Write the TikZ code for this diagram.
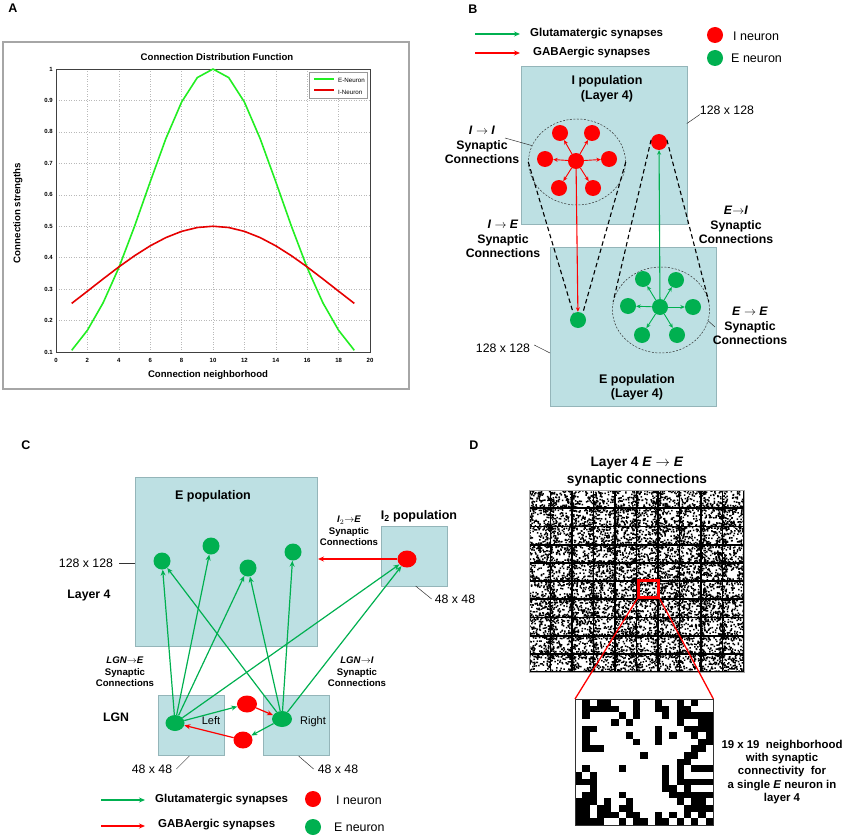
\documentclass[tikz,border=0pt]{standalone}
\usepackage{fontspec}
\setmainfont{Liberation Sans}
\usetikzlibrary{arrows.meta,positioning,shapes.geometric}

\definecolor{popfill}{HTML}{BDE0E3}
\definecolor{popedge}{HTML}{94B5B9}
\definecolor{egreen}{HTML}{00B050}
\definecolor{ired}{HTML}{FF0000}
\definecolor{curvegreen}{HTML}{22EE22}
\definecolor{curvered}{HTML}{E60000}

\tikzset{
  pop/.style={draw=popedge, fill=popfill, line width=1pt, anchor=north west, inner sep=0pt},
  ineuron/.style={circle, fill=ired, inner sep=0pt, minimum size=16pt},
  eneuron/.style={circle, fill=egreen, inner sep=0pt, minimum size=16pt},
  glu/.style={draw=egreen, line width=0.9pt, -{Stealth[length=4.5pt,width=4pt]}},
  gaba/.style={draw=ired, line width=0.9pt, -{Stealth[length=4.5pt,width=4pt]}},
  gluC/.style={draw=egreen, line width=1.2pt, -{Stealth[length=6pt,width=5pt]}},
  gabaC/.style={draw=ired, line width=1.2pt, -{Stealth[length=6pt,width=5pt]}},
  key/.style={line width=1.2pt, -{Stealth[length=6pt,width=5pt]}},
  funnel/.style={line width=1.1pt, dash pattern=on 4.5pt off 3pt},
  ring/.style={ellipse, draw=black!80, line width=0.5pt, dash pattern=on 2pt off 1.5pt, inner sep=0pt},
  leader/.style={line width=0.5pt, black!80},
  panel/.style={font=\fontsize{12.5}{14}\selectfont\bfseries},
  txt/.style={font=\fontsize{12.3}{14.7}\selectfont, align=center, inner sep=0pt},
  btxt/.style={font=\fontsize{12.3}{14.7}\selectfont\bfseries, align=center, inner sep=0pt},
  stxt/.style={font=\fontsize{9.6}{11.5}\selectfont\bfseries, align=center, inner sep=0pt},
  lgd/.style={font=\fontsize{11.5}{13}\selectfont\bfseries, anchor=west, inner sep=0pt},
  tick/.style={font=\fontsize{6}{7}\selectfont\bfseries, inner sep=0pt},
}

\begin{document}
\begin{tikzpicture}[x=1pt,y=-1pt]
\useasboundingbox (0,0) rectangle (843,840);

%% A
\node[panel] at (13,8) {A};
\draw[gray!70, line width=1.2pt] (3,42) rectangle (409,389);
\node[font=\fontsize{9.6}{11}\selectfont\bfseries] at (217,57) {Connection Distribution Function};
\node[font=\fontsize{9.7}{11}\selectfont\bfseries, rotate=90] at (18,213) {Connection strengths};
\node[font=\fontsize{9.6}{11}\selectfont\bfseries] at (208,375) {Connection neighborhood};
\begin{scope}[shift={(56,352)}, x=15.7pt, y=314.4pt]
 \foreach \t in {0,2,...,20} {
  \draw[gray!55, dotted, line width=0.5pt] (\t,0) -- (\t,0.9);
  \node[tick] at (\t,-0.026) {\t};
 }
 \foreach \k/\s in {0/0.1,1/0.2,2/0.3,3/0.4,4/0.5,5/0.6,6/0.7,7/0.8,8/0.9,9/1} {
  \draw[gray!55, dotted, line width=0.5pt] (0,\k/10) -- (20,\k/10);
  \node[tick, anchor=east] at (-0.2,\k/10) {\s};
 }
 \draw[black!75, line width=0.6pt] (0,0) rectangle (20,0.9);
 \draw[curvegreen, line width=1.6pt] plot[domain=1:19, samples=19] (\x,{exp(-1*(\x-10)*(\x-10)/36)-0.1});
 \draw[curvered, line width=1.6pt] plot[domain=1:19, samples=19] (\x,{0.5*exp(-1*(\x-10)*(\x-10)/120)-0.1});
\end{scope}
\draw[fill=white, draw=gray!80, line width=0.6pt] (309,72) rectangle (367,98);
\draw[curvegreen, line width=1.6pt] (314,79) -- (334,79);
\draw[curvered, line width=1.6pt] (314,90) -- (334,90);
\node[tick, anchor=west, font=\fontsize{6.2}{7}\selectfont] at (338,80) {E-Neuron};
\node[tick, anchor=west, font=\fontsize{6.2}{7}\selectfont] at (338,92) {I-Neuron};

%% B
\node[panel] at (473,9) {B};
\coordinate (gluB) at (475,34);
\coordinate (gabaB) at (475,53);
\draw[key, egreen] (gluB) -- ++(45,0);
\draw[key, ired] (gabaB) -- ++(45,0);
\node[lgd] at (530,34) {Glutamatergic synapses};
\node[lgd] at (533,53) {GABAergic synapses};
\node[ineuron] (idotB) at (715,35) {};
\node[eneuron] (edotB) at (715,58) {};
\node[txt, anchor=west, font=\fontsize{12.5}{14}\selectfont] at (733,36) {I neuron};
\node[txt, anchor=west, font=\fontsize{12.5}{14}\selectfont] at (731,58) {E neuron};

\node[pop, minimum width=166pt, minimum height=158pt] (ipopB) at (521,66) {};
\node[pop, minimum width=166pt, minimum height=159pt] (epopB) at (550,247) {};
\node[btxt, font=\fontsize{12.5}{15}\selectfont\bfseries] at (607,88.5) {I population\\(Layer 4)};
\node[btxt, font=\fontsize{12.5}{14}\selectfont\bfseries] at (637,387) {E population\\(Layer 4)};
\node[txt] (sizeIB) at (727,110) {128 x 128};
\draw[leader] (sizeIB.south west) -- ++(-13,9);
\node[txt] (sizeEB) at (503,348) {128 x 128};
\draw[leader] ([xshift=4pt,yshift=3pt]sizeEB.east) -- (epopB.west |- 0,353);

\node[ring, minimum width=97pt, minimum height=86pt] (iiring) at (577,162) {};
\node[ring, minimum width=97pt, minimum height=86pt] (eering) at (661,310) {};

% I -> I cluster
\node[ineuron] (icB) at (576,161) {};
\node[ineuron] (i1B) at (560,133) {};
\node[ineuron] (i2B) at (592,133) {};
\node[ineuron] (i3B) at (545,159) {};
\node[ineuron] (i4B) at (609,159) {};
\node[ineuron] (i5B) at (559,188) {};
\node[ineuron] (i6B) at (593,188) {};
\foreach \n in {i1B,i2B,i3B,i4B,i5B,i6B}
  \draw[gaba] (icB) -- (\n);
\node[ineuron] (irB) at (659,142) {};

% E -> E cluster
\node[eneuron] (elB) at (578,320) {};
\node[eneuron] (ecB) at (660,307) {};
\node[eneuron] (e1B) at (643,279) {};
\node[eneuron] (e2B) at (676,280) {};
\node[eneuron] (e3B) at (628,306) {};
\node[eneuron] (e4B) at (693,307) {};
\node[eneuron] (e5B) at (642,335) {};
\node[eneuron] (e6B) at (677,335) {};
\foreach \n in {e1B,e2B,e3B,e4B,e5B,e6B}
  \draw[glu] (ecB) -- (\n);

\draw[funnel] (iiring.west) -- (elB.125);
\draw[funnel] (iiring.east) -- (elB.55);
\draw[funnel] (irB.165) -- (eering.170);
\draw[funnel] (irB.15) -- (eering.10);
\draw[gaba, line width=1.1pt] (icB) -- (elB);
\draw[glu, line width=1.1pt] (ecB) -- (irB);

\node[btxt] (iilab) at (482,145) {\textit{I} $\rightarrow$ \textit{I}\\Synaptic\\Connections};
\draw[leader] (505,138) -- (iiring.160);
\node[btxt] at (503,239) {\textit{I} $\rightarrow$ \textit{E}\\Synaptic\\Connections};
\node[btxt] at (736,225) {\textit{E}$\rightarrow$\textit{I}\\Synaptic\\Connections};
\node[btxt] (eelab) at (750,326) {\textit{E} $\rightarrow$ \textit{E}\\Synaptic\\Connections};
\draw[leader] (eering.-13) -- (715,327);

%% C
\node[panel] at (26,445) {C};
\node[pop, minimum width=182pt, minimum height=169pt] (epopC) at (135,477) {};
\node[pop, minimum width=66pt, minimum height=60pt] (i2popC) at (381,526) {};
\node[pop, minimum width=66pt, minimum height=60pt] (leftC) at (158,695) {};
\node[pop, minimum width=66pt, minimum height=60pt] (rightC) at (263,695) {};
\node[btxt, font=\fontsize{12.5}{14}\selectfont\bfseries] at (213,496) {E population};
\node[btxt, font=\fontsize{12.5}{14}\selectfont\bfseries] at (419,516) {I\textsubscript{2} population};
\node[txt] (sizeEC) at (86,563) {128 x 128};
\draw[leader] ([xshift=6pt]sizeEC.east) -- (epopC.west |- sizeEC.east);
\node[btxt] at (89,596) {Layer 4};
\node[btxt] at (116,717) {LGN};
\node[txt, font=\fontsize{11}{13}\selectfont] at (211,721) {Left};
\node[txt, font=\fontsize{11}{13}\selectfont] at (313,722) {Right};

\node[eneuron, minimum size=17pt] (e1C) at (162,561) {};
\node[eneuron, minimum size=17pt] (e2C) at (211,546) {};
\node[eneuron, minimum size=17pt] (e3C) at (248,568) {};
\node[eneuron, minimum size=17pt] (e4C) at (293,552) {};
\node[ineuron, ellipse, minimum width=19pt, minimum height=17pt] (i2C) at (407,559) {};
\node[eneuron, ellipse, minimum width=19pt, minimum height=16pt] (lgnlC) at (175,723) {};
\node[eneuron, ellipse, minimum width=20pt, minimum height=16pt] (lgnrC) at (282,719) {};
\node[ineuron, ellipse, minimum width=20pt, minimum height=17pt] (r1C) at (247,704) {};
\node[ineuron, ellipse, minimum width=19pt, minimum height=17pt] (r2C) at (243,740) {};

\foreach \t in {e1C,e2C,e3C,i2C,r1C}
  \draw[gluC] (lgnlC) -- (\t);
\foreach \t in {e1C,e3C,e4C,i2C,r2C}
  \draw[gluC] (lgnrC) -- (\t);
\draw[gabaC] (r1C) -- (lgnrC);
\draw[gabaC] (r2C) -- (lgnlC);
\draw[gabaC, line width=1.8pt] (i2C) -- (i2C -| epopC.east);

\node[stxt] at (349,531) {\textit{I}$_2$$\rightarrow$\textit{E}\\Synaptic\\Connections};
\node[stxt] at (125,672) {\textit{LGN}$\rightarrow$\textit{E}\\Synaptic\\Connections};
\node[stxt] at (357,672) {\textit{LGN}$\rightarrow$\textit{I}\\Synaptic\\Connections};

\node[txt] (sizeLC) at (152,769) {48 x 48};
\draw[leader] ([xshift=4pt]sizeLC.east) -- ++(13,-13);
\node[txt] (sizeRC) at (338,769) {48 x 48};
\draw[leader] ([xshift=-4pt]sizeRC.west) -- ++(-15,-13);
\node[txt] (sizeIC) at (455,599) {48 x 48};
\draw[leader] ([xshift=-3pt]sizeIC.west) -- ++(-16,-13);

\coordinate (gluC0) at (101,800);
\coordinate (gabaC0) at (101,826);
\draw[key, egreen] (gluC0) -- ++(44,0);
\draw[key, ired] (gabaC0) -- ++(44,0);
\node[lgd] at (155,800) {Glutamatergic synapses};
\node[lgd] at (158,825) {GABAergic synapses};
\node[ineuron] (idotC) at (313,799) {};
\node[eneuron] (edotC) at (313,827) {};
\node[txt, anchor=west, font=\fontsize{12.4}{14}\selectfont] at (336,800) {I neuron};
\node[txt, anchor=west, font=\fontsize{12.4}{14}\selectfont] at (334,827) {E neuron};

%% D
\node[panel] at (474,445) {D};
\node[font=\fontsize{13.7}{17}\selectfont\bfseries, align=center] (titleD) at (637,472) {Layer 4 \textit{E} $\rightarrow$ \textit{E}\\synaptic connections};
\begin{scope}
 \clip (529,490) rectangle (744,672);
 \fill[white] (529,490) rectangle (744,672);
 \pgfmathsetseed{11}
 \fill \foreach \k in {1,...,5200}{ ({529+215*rnd},{490+182*rnd}) rectangle ++(1.5,1.5) };
 \fill \foreach \k in {1,...,2200}{ ({528.5+21.5*round(10*rnd)+6*(rnd-0.5)+5*(rnd-0.5)},{490+182*rnd}) rectangle ++(1.5,1.5) };
 \fill \foreach \k in {1,...,2200}{ ({529+215*rnd},{489.5+18.2*round(10*rnd)+6*(rnd-0.5)+5*(rnd-0.5)}) rectangle ++(1.5,1.5) };
 \foreach \c in {0,...,10} {
  \draw[line width=1.8pt] ({529+21.5*\c},490) -- ++(0,182);
  \draw[line width=1.8pt] (529,{490+18.2*\c}) -- ++(215,0);
 }
\end{scope}
\node[draw=gray!70, line width=0.6pt, minimum width=215pt, minimum height=182pt, anchor=north west, inner sep=0pt] (bigmat) at (529,490) {};
\node[draw=ired, line width=2.6pt, minimum width=20pt, minimum height=17pt, inner sep=0pt] (zoomsq) at (648.5,589) {};

\node[minimum width=138pt, minimum height=126pt, anchor=north west, inner sep=0pt, fill=white] (zoommat) at (575,699) {};
\begin{scope}[shift={(575,699)}, x=7.263pt, y=-6.632pt]
 \foreach \row [count=\j from 0] in {
  {0,1,0,1,1,0,0,0,1,0,0,1,0,0,1,0,1,0,0},
  {0,1,1,1,1,1,0,0,1,0,0,1,1,0,1,1,0,0,0},
  {0,1,0,0,0,0,1,0,1,0,0,0,1,0,1,1,1,1,1},
  {0,0,0,0,0,1,0,1,0,0,0,0,0,0,1,0,0,1,1},
  {0,1,1,0,0,0,0,0,0,0,0,1,0,0,0,1,1,1,1},
  {0,1,0,0,0,0,0,1,0,0,0,1,0,1,0,0,1,0,1},
  {0,1,0,0,0,0,0,0,1,0,0,1,0,0,0,0,0,1,1},
  {0,1,1,1,0,0,0,0,0,0,0,0,0,0,0,0,1,1,0},
  {0,0,0,0,0,0,0,0,0,1,0,0,0,0,0,1,1,0,0},
  {0,0,0,0,0,0,0,0,0,0,0,0,0,0,1,1,0,0,0},
  {0,1,0,0,0,0,1,0,0,0,0,0,1,0,1,0,1,1,1},
  {1,0,1,0,0,0,0,0,0,0,0,0,1,0,1,0,0,0,0},
  {1,1,1,0,0,0,0,0,0,0,0,0,1,0,1,1,1,1,1},
  {0,0,1,0,0,0,0,0,0,0,0,0,1,1,0,1,0,0,0},
  {0,1,1,0,0,0,1,0,0,0,0,0,0,1,1,1,1,1,1},
  {1,1,1,0,1,0,0,1,0,0,0,0,0,0,1,0,1,1,0},
  {1,1,0,1,1,0,1,1,0,0,0,0,0,0,0,1,1,1,1},
  {1,1,0,1,1,1,0,1,1,0,0,1,0,1,0,1,0,1,0},
  {1,1,1,1,0,0,1,0,1,1,0,1,1,0,1,0,1,0,1}} {
  \foreach \c [count=\i from 0] in \row {
   \ifnum\c=1 \fill (\i,\j) rectangle ++(1,1); \fi
  }
 }
\end{scope}
\draw[black!80, line width=0.8pt] (zoommat.north west) rectangle (zoommat.south east);
\draw[ired, line width=1.3pt] (zoomsq.south west) -- (zoommat.north west);
\draw[ired, line width=1.3pt] (zoomsq.south east) -- (zoommat.north east);
\node[font=\fontsize{11.4}{13.3}\selectfont\bfseries, align=center] (captD) at (782,772) {19 x 19~~neighborhood\\with synaptic\\connectivity~~for\\a single \textit{E} neuron in\\layer 4};

\end{tikzpicture}
\end{document}
